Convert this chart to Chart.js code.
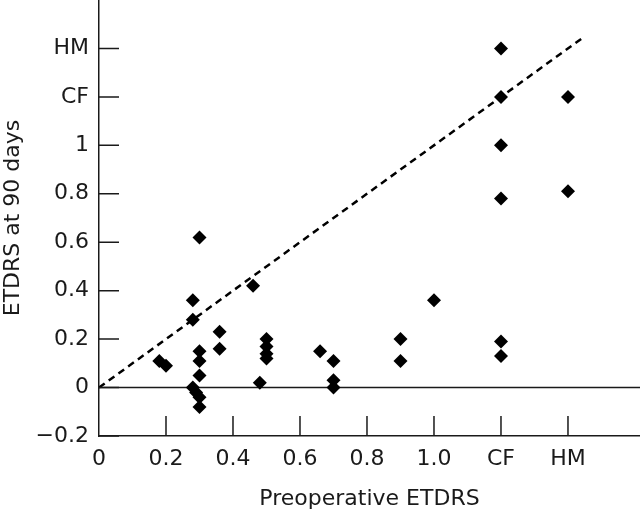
<!DOCTYPE html>
<html>
<head>
<meta charset="utf-8">
<script src="https://cdn.jsdelivr.net/npm/chart.js@4.4.1/dist/chart.umd.min.js"></script>
<style>
  html, body { margin: 0; padding: 0; background: #fff; }
</style>
</head>
<body>
<canvas id="grafica" width="640" height="514"></canvas>
<script>
// Preoperative ETDRS (x) vs ETDRS at 90 days (y); CF = 1.2, HM = 1.4 on both axes
const preop = [0.18, 0.2, 0.28, 0.28, 0.3, 0.3, 0.3, 0.3, 0.28, 0.29, 0.3, 0.3,
               0.36, 0.36, 0.46, 0.48, 0.5, 0.5, 0.5, 0.5, 0.66, 0.7, 0.7, 0.7,
               0.9, 0.9, 1.0, 1.2, 1.2, 1.2, 1.2, 1.2, 1.2, 1.4, 1.4];
const day90 = [0.11, 0.09, 0.36, 0.28, 0.62, 0.15, 0.11, 0.05, 0.0, -0.02, -0.04, -0.08,
               0.23, 0.16, 0.42, 0.02, 0.2, 0.17, 0.14, 0.12, 0.15, 0.11, 0.03, 0.0,
               0.2, 0.11, 0.36, 1.4, 1.2, 1.0, 0.78, 0.19, 0.13, 1.2, 0.81];

// Line of no change (y = x) and the zero line
const diagonalX = [0, 1.45];
const zeroX = [0, 1.615];

// Tick labels
const xTickValues = [0, 0.2, 0.4, 0.6, 0.8, 1.0, 1.2, 1.4];
const xTickLabels = ['0', '0.2', '0.4', '0.6', '0.8', '1.0', 'CF', 'HM'];
const yTickValues = [-0.2, 0, 0.2, 0.4, 0.6, 0.8, 1.0, 1.2, 1.4];
const yTickLabels = ['\u22120.2', '0', '0.2', '0.4', '0.6', '0.8', '1', 'CF', 'HM'];

const fuente = "'DejaVu Sans', sans-serif";
const tinta = '#1a1a1a';

// Short tick marks pointing into the plot
const ticksHaciaDentro = {
    id: 'ticksHaciaDentro',
    afterDatasetsDraw(chart) {
        const { ctx, chartArea, scales } = chart;
        ctx.save();
        ctx.strokeStyle = tinta;
        ctx.lineWidth = 1.5;
        ctx.beginPath();
        xTickValues.forEach(v => {
            if (v === 0) return;
            const px = scales.x.getPixelForValue(v);
            ctx.moveTo(px, chartArea.bottom);
            ctx.lineTo(px, chartArea.bottom - 20);
        });
        yTickValues.forEach(v => {
            const py = scales.y.getPixelForValue(v);
            ctx.moveTo(chartArea.left, py);
            ctx.lineTo(chartArea.left + 20, py);
        });
        ctx.stroke();
        ctx.restore();
    }
};

new Chart(document.querySelector('#grafica'), {
    type: 'scatter',
    data: {
        datasets: [
            {
                label: 'Pacientes',
                data: preop.map((x, i) => ({ x: x, y: day90[i] })),
                pointStyle: 'rectRot',
                pointRadius: 7,
                pointHoverRadius: 7,
                backgroundColor: '#000',
                borderColor: '#000',
                borderWidth: 0,
                order: 0
            },
            {
                type: 'line',
                label: 'y = x',
                data: diagonalX.map(x => ({ x: x, y: x })),
                borderColor: '#000',
                borderWidth: 2.5,
                borderDash: [7, 5],
                pointRadius: 0,
                fill: false,
                order: 1
            },
            {
                type: 'line',
                label: 'cero',
                data: zeroX.map(x => ({ x: x, y: 0 })),
                borderColor: tinta,
                borderWidth: 1.5,
                pointRadius: 0,
                fill: false,
                order: 2
            }
        ]
    },
    options: {
        responsive: false,
        animation: false,
        layout: { autoPadding: false, padding: 0 },
        plugins: {
            legend: { display: false },
            tooltip: { enabled: false }
        },
        scales: {
            x: {
                type: 'linear',
                min: 0,
                max: 1.615,
                afterBuildTicks: s => { s.ticks = xTickValues.map(v => ({ value: v })); },
                afterFit: s => { s.height = 78; s.paddingLeft = 0; s.paddingRight = 0; },
                grid: { drawOnChartArea: false, drawTicks: false },
                border: { display: true, color: tinta, width: 1.5 },
                ticks: {
                    autoSkip: false,
                    maxRotation: 0,
                    padding: 10,
                    color: tinta,
                    font: { family: fuente, size: 22 },
                    callback: (v, i) => xTickLabels[i]
                },
                title: {
                    display: true,
                    text: 'Preoperative ETDRS',
                    color: tinta,
                    font: { family: fuente, size: 22 },
                    padding: { top: 4, bottom: 2 }
                }
            },
            y: {
                type: 'linear',
                min: -0.2,
                max: 1.6,
                afterBuildTicks: s => { s.ticks = yTickValues.map(v => ({ value: v })); },
                afterFit: s => { s.width = 99; s.paddingTop = 0; s.paddingBottom = 0; },
                grid: { drawOnChartArea: false, drawTicks: false },
                border: { display: true, color: tinta, width: 1.5 },
                ticks: {
                    autoSkip: false,
                    padding: 10,
                    color: tinta,
                    font: { family: fuente, size: 22 },
                    callback: (v, i) => yTickLabels[i]
                },
                title: {
                    display: true,
                    text: 'ETDRS at 90 days',
                    color: tinta,
                    font: { family: fuente, size: 22 },
                    padding: { top: 0, bottom: 0 }
                }
            }
        }
    },
    plugins: [ticksHaciaDentro]
});
</script>
</body>
</html>
